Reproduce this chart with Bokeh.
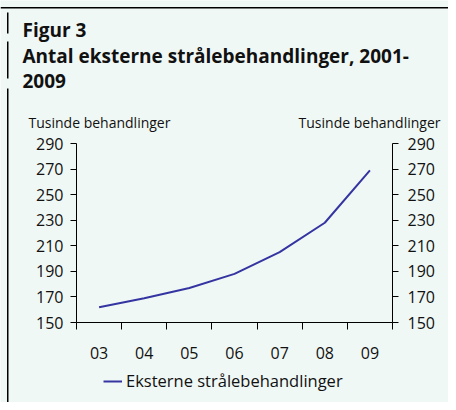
from bokeh.plotting import figure
from bokeh.models import (Range1d, LinearAxis, FixedTicker, Label, BoxAnnotation,
                          Legend, LegendItem, ColumnDataSource)
from bokeh.embed import file_html
from bokeh.resources import INLINE

# ---- data ----
years = ["03", "04", "05", "06", "07", "08", "09"]
values = [162, 169, 177, 188, 205, 228, 269]
y_ticks = [150, 170, 190, 210, 230, 250, 270, 290]
series_name = "Eksterne strålebehandlinger"
title1 = "Figur 3"
title2 = "Antal eksterne strålebehandlinger, 2001-"
title3 = "2009"
unit_label = "Tusinde behandlinger"

BG = "#f0f8f5"
LINE = "#3535a2"
FONT = "Open Sans"
TXT = "#111111"

# ---- layout (canvas pixels) ----
W, H = 448, 402
FL, FR, FT, FB = 76, 392, 143, 322       # plotting area edges
Y0, Y1 = y_ticks[0], y_ticks[-1]
NX = len(years)
kx = (FR - FL) / NX
ky = (FB - FT) / (Y1 - Y0)
x_range = Range1d(-FL / kx, (W - FL) / kx)
y_range = Range1d(Y0 - (H - FB) / ky, Y1 + FT / ky)

p = figure(width=W, height=H, output_backend="svg", toolbar_location=None,
           x_range=x_range, y_range=y_range,
           min_border=0, x_axis_location=None, y_axis_location=None)
p.background_fill_color = BG
p.border_fill_color = BG
p.outline_line_color = None
p.xgrid.visible = False
p.ygrid.visible = False

xs = [i + 0.5 for i in range(NX)]
src = ColumnDataSource(dict(x=xs, y=values))
r = p.line("x", "y", source=src, line_color=LINE, line_width=2)

def style_y(ax, loc, standoff):
    ax.fixed_location = loc
    ax.bounds = (Y0, Y1)
    ax.ticker = FixedTicker(ticks=y_ticks, minor_ticks=[])
    ax.major_tick_out = 6
    ax.major_tick_in = 0
    ax.minor_tick_out = 0
    ax.axis_line_color = "black"
    ax.major_tick_line_color = "black"
    ax.major_label_standoff = standoff
    ax.major_label_text_font = FONT
    ax.major_label_text_font_size = "16px"
    ax.major_label_text_color = TXT

yl = LinearAxis()
style_y(yl, 0, 7)
p.add_layout(yl, "left")
yr = LinearAxis()
style_y(yr, NX, 9)
p.add_layout(yr, "right")

xa = LinearAxis()
xa.fixed_location = Y0
xa.bounds = (0, NX)
xa.ticker = FixedTicker(ticks=xs, minor_ticks=list(range(NX + 1)))
xa.major_label_overrides = {x: lab for x, lab in zip(xs, years)}
xa.major_tick_out = 0
xa.major_tick_in = 0
xa.minor_tick_out = 7
xa.minor_tick_in = 0
xa.minor_tick_line_color = "black"
xa.axis_line_color = "black"
xa.major_label_standoff = 17
xa.major_label_text_font = FONT
xa.major_label_text_font_size = "16px"
xa.major_label_text_color = TXT
p.add_layout(xa, "below")

# ---- texts (screen units: x from left, y from bottom) ----
def lab(text, x, baseline, size, bold=False, align="left"):
    p.add_layout(Label(text=text, x=x, y=H - baseline, x_units="screen", y_units="screen",
                       text_font=FONT, text_font_size=size,
                       text_font_style="bold" if bold else "normal",
                       text_align=align, text_baseline="alphabetic", text_color=TXT))

lab(title1, 22, 29, "19px", True)
lab(title2, 22, 55, "19px", True)
lab(title3, 22, 80, "19px", True)
lab(unit_label, 28, 122, "14px")
lab(unit_label, 440, 122, "14px", align="right")

# ---- frame decorations: top rule and broken left rule ----
def rule(l, rgt, top, bottom):
    p.add_layout(BoxAnnotation(left=l, right=rgt, top=H - top, bottom=H - bottom,
                               left_units="screen", right_units="screen",
                               top_units="screen", bottom_units="screen",
                               fill_color="black", fill_alpha=1, line_color=None,
                               level="overlay"))

rule(0, W, 6.5, 8)
for a, b in [(12, 33), (41, 78), (88, H)]:
    rule(6.5, 8, a, b)

legend = Legend(items=[LegendItem(label=series_name, renderers=[r])],
                location=(103, 10), orientation="horizontal",
                background_fill_alpha=0, border_line_color=None,
                padding=0, margin=0, glyph_width=19, glyph_height=20,
                label_standoff=4, label_text_font=FONT,
                label_text_font_size="16.5px", label_text_color=TXT)
p.add_layout(legend, "center")

open("out.html", "w").write(file_html(p, INLINE))
